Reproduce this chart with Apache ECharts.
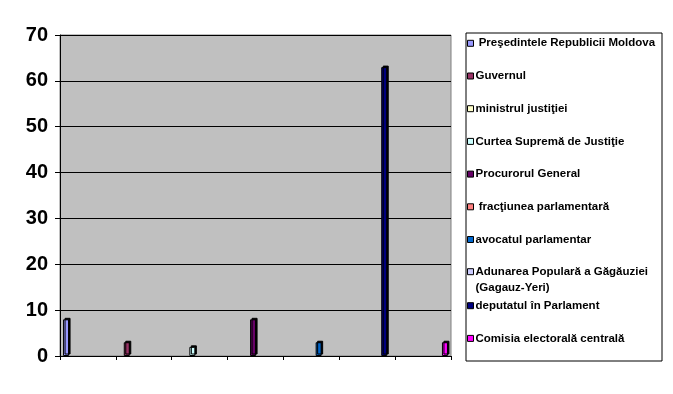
<!DOCTYPE html>
<html>
<head>
<meta charset="utf-8">
<script src="https://cdn.jsdelivr.net/npm/echarts@6/dist/echarts.min.js"></script>
<style>
html,body{margin:0;padding:0;background:#fff;}
#chart{width:673px;height:394px;}
</style>
</head>
<body>
<div id="chart"></div>
<script>
// Categories (unlabelled in the original)
var categories = ['1', '2', '3', '4', '5', '6', '7'];
var yTicks = [0, 10, 20, 30, 40, 50, 60, 70];

var seriesNames = [
  ' Preşedintele Republicii Moldova',
  'Guvernul',
  'ministrul justiţiei',
  'Curtea Supremă de Justiţie',
  'Procurorul General',
  ' fracţiunea parlamentară',
  'avocatul parlamentar',
  'Adunarea Populară a Găgăuziei (Gagauz-Yeri)',
  'deputatul în Parlament',
  'Comisia electorală centrală'
];
var seriesColors = ['#9999FF', '#993366', '#FFFFCC', '#CCFFFF', '#660066',
                    '#FF8080', '#0066CC', '#CCCCFF', '#000080', '#FF00FF'];

var presedinte   = [8, null, null, null, null, null, null];
var guvernul     = [null, 3, null, null, null, null, null];
var ministrul    = [null, null, null, null, null, null, null];
var curtea       = [null, null, 2, null, null, null, null];
var procurorul   = [null, null, null, 8, null, null, null];
var fractiunea   = [null, null, null, null, null, null, null];
var avocatul     = [null, null, null, null, 3, null, null];
var adunarea     = [null, null, null, null, null, null, null];
var deputatul    = [null, null, null, null, null, 63, null];
var comisia      = [null, null, null, null, null, null, 3];

var seriesValues = [presedinte, guvernul, ministrul, curtea, procurorul,
                    fractiunea, avocatul, adunarea, deputatul, comisia];

var chart = echarts.init(document.getElementById('chart'), null, {renderer: 'canvas'});

var series = seriesNames.map(function (name, i) {
  return {
    name: name,
    type: 'bar',
    data: seriesValues[i],
    barGap: '-19%',
    barWidth: 6,
    itemStyle: {
      color: seriesColors[i],
      borderColor: '#000',
      borderWidth: 1,
      shadowColor: '#000',
      shadowBlur: 0,
      shadowOffsetX: 1.5,
      shadowOffsetY: -1.5
    },
    emphasis: {disabled: true}
  };
});

var legendText = {
  fontFamily: 'Liberation Sans, Arial, sans-serif',
  fontWeight: 'bold',
  fontSize: 11.5,
  color: '#000',
  lineHeight: 16,
  padding: [0, 0, 0, -3]
};
var legendIcon = {
  borderColor: '#000',
  borderWidth: 1,
  shadowColor: 'transparent',
  shadowBlur: 0,
  shadowOffsetX: 0,
  shadowOffsetY: 0
};
function legendBase(names, top, formatter) {
  var l = {
    data: names.map(function (n) { return {name: n, icon: 'rect'}; }),
    orient: 'vertical',
    left: 467,
    top: top,
    padding: 0,
    itemWidth: 6,
    itemHeight: 6,
    itemGap: 16.7,
    selectedMode: false,
    textStyle: legendText,
    itemStyle: legendIcon
  };
  if (formatter) l.formatter = formatter;
  return l;
}

var option = {
  animation: false,
  backgroundColor: '#fff',
  grid: {
    left: 60, right: 222, top: 35, bottom: 38,
    show: true,
    backgroundColor: '#C0C0C0',
    borderColor: '#808080',
    borderWidth: 1
  },
  legend: [
    legendBase(seriesNames.slice(0, 7), 35.3),
    legendBase(seriesNames.slice(7, 8), 247.7, function () {
      return '\nAdunarea Populară a Găgăuziei\n(Gagauz-Yeri)';
    }),
    legendBase(seriesNames.slice(8, 10), 297.7)
  ],
  graphic: [{
    type: 'rect',
    shape: {x: 466, y: 33, width: 196, height: 328},
    style: {fill: 'none', stroke: '#000', lineWidth: 1},
    silent: true
  }],
  xAxis: {
    type: 'category',
    data: categories,
    boundaryGap: true,
    axisLine: {lineStyle: {color: '#000', width: 1}},
    axisTick: {show: true, length: 4, lineStyle: {color: '#000'}},
    axisLabel: {show: false},
    splitLine: {show: false}
  },
  yAxis: {
    type: 'value',
    min: yTicks[0],
    max: yTicks[yTicks.length - 1],
    interval: 10,
    axisLine: {show: true, lineStyle: {color: '#000', width: 1}},
    axisTick: {show: true, length: 5, lineStyle: {color: '#000'}},
    axisLabel: {
      margin: 12,
      fontFamily: 'Liberation Sans, Arial, sans-serif',
      fontWeight: 'bold',
      fontSize: 20,
      color: '#000'
    },
    splitLine: {show: true, lineStyle: {color: '#000', width: 1}}
  },
  series: series
};

chart.setOption(option);
</script>
</body>
</html>
